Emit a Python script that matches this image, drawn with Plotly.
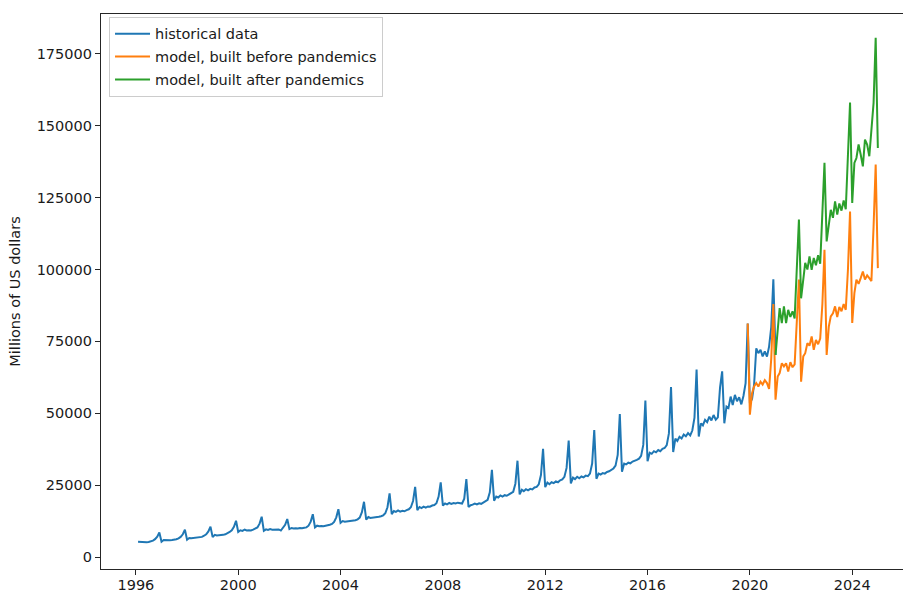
import pandas as pd
import plotly.graph_objects as go

# Monthly sales, millions of US dollars (one row per calendar year)
historical = [
    5300, 5200, 5050, 5000, 5100, 5200, 5400, 5700, 6200, 7100, 8500,                 # 1996 (Feb-Dec)
    5300, 5900, 5800, 5900, 5800, 5900, 6000, 6200, 6500, 7000, 7900, 9500,           # 1997
    6000, 6600, 6500, 6600, 6600, 6700, 6800, 7000, 7400, 7900, 8900, 10550,          # 1998
    6900, 7700, 7500, 7500, 7600, 7700, 7900, 8200, 8700, 9300, 10500, 12600,         # 1999
    8700, 9300, 9100, 9500, 9200, 9300, 9200, 9500, 9800, 10300, 11600, 14000,        # 2000
    9100, 9600, 9400, 9700, 9500, 9600, 9500, 9600, 9200, 10000, 11200, 13200,        # 2001
    9700, 10100, 9900, 10000, 9900, 10100, 10000, 10200, 10300, 10900, 12300, 14900,  # 2002
    10300, 10900, 10700, 10800, 10700, 10900, 11000, 11200, 11500, 12200, 13800, 16650,  # 2003
    11900, 12500, 12300, 12400, 12300, 12500, 12600, 12800, 13100, 13700, 15600, 19200,  # 2004
    13000, 13900, 13600, 13700, 13600, 13900, 14000, 14200, 14500, 15200, 17300, 22100,  # 2005
    14900, 16000, 15700, 16200, 15800, 16100, 15900, 16300, 16600, 17300, 19500, 24400,  # 2006
    16300, 17400, 17000, 17500, 17200, 17600, 17500, 17900, 18100, 18700, 21000, 25950,  # 2007
    17900, 18600, 18300, 18800, 18500, 18800, 18600, 18900, 18700, 18600, 20300, 27100,  # 2008
    17400, 18000, 18200, 18600, 18300, 18700, 18500, 19000, 19300, 19900, 22500, 30300,  # 2009
    19600, 21000, 20700, 21400, 21000, 21500, 21300, 21800, 22000, 22700, 25500, 33500,  # 2010
    21800, 23400, 22900, 23600, 23200, 23700, 23500, 24200, 24400, 25300, 28500, 37600,  # 2011
    24300, 25900, 25300, 26000, 25700, 26300, 26000, 26700, 27000, 27900, 31000, 40500,  # 2012
    25600, 27600, 27100, 27900, 27400, 28000, 27700, 28300, 28100, 29000, 32500, 44200,  # 2013
    27200, 29000, 28700, 29200, 29000, 29600, 29800, 30300, 30800, 31800, 35500, 49700,  # 2014
    29700, 32500, 32200, 32800, 32600, 33200, 33400, 33800, 34200, 35200, 39000, 54400,  # 2015
    33300, 36300, 35900, 36800, 36400, 37200, 36800, 37600, 37900, 38900, 43000, 59100,  # 2016
    36500, 41200, 40400, 41800, 41200, 42600, 42000, 43100, 42300, 44000, 48500, 65200,  # 2017
    41900, 46500, 45800, 47700, 46900, 48800, 47500, 49400, 47800, 48600, 59000, 64600,  # 2018
    46500, 52300, 51800, 55800, 52900, 56400, 54200, 55600, 53100, 56000, 60500, 81200,  # 2019
    53500, 55000, 60000, 72600, 70900, 72100, 69800, 71500, 69700, 73200, 80000, 96600,  # 2020
    70300,                                                                               # 2021 (Jan)
]
historical_start = "1996-02-01"

# Forecast from the model fitted on data up to Dec 2019
model_before = [
    81200,                                                                               # 2019 (Dec)
    49500, 57000, 59300, 60500, 59300, 61000, 60000, 61500, 60500, 58500, 69000, 88000,  # 2020
    54700, 62800, 64000, 67400, 66300, 67400, 64500, 67800, 66000, 67000, 80000, 96500,  # 2021
    61000, 69800, 70900, 74400, 73500, 76700, 72100, 75500, 74000, 76000, 88000, 106900, # 2022
    70300, 80200, 83700, 84800, 87200, 83500, 87000, 85500, 88000, 86000, 100000, 120200,  # 2023
    81400, 91800, 96500, 95000, 97000, 99300, 96500, 98000, 97000, 96000, 115000, 136500,  # 2024
    100500,                                                                              # 2025 (Jan)
]
model_before_start = "2019-12-01"

# Forecast from the model fitted on data up to Jan 2021
model_after = [
    70300, 80200, 86600, 81400, 87200, 81400, 86000, 83500, 85500, 83000, 98000, 117400,       # 2021
    90000, 97600, 102300, 100000, 104600, 99900, 104000, 101500, 105000, 102000, 118000, 137100,  # 2022
    109800, 116800, 120800, 118000, 123700, 119100, 123000, 120500, 124000, 121000, 138000, 158100,  # 2023
    123200, 137100, 138800, 143500, 140000, 135900, 145200, 143500, 139400, 148000, 158000, 180600,  # 2024
    142300,                                                                                    # 2025 (Jan)
]
model_after_start = "2021-01-01"

y_ticks = [0, 25000, 50000, 75000, 100000, 125000, 150000, 175000]


def months(start, n):
    return pd.date_range(start, periods=n, freq="MS")


fig = go.Figure()
series = [
    ("historical data", historical, historical_start, "#1f77b4"),
    ("model, built before pandemics", model_before, model_before_start, "#ff7f0e"),
    ("model, built after pandemics", model_after, model_after_start, "#2ca02c"),
]
for i, (name, values, start, color) in enumerate(series):
    fig.add_trace(go.Scatter(
        x=months(start, len(values)), y=values, mode="lines", name=name,
        legendgroup=f"g{i}",
        line=dict(color=color, width=2),
    ))

axis_color = "#262626"
font = dict(family="DejaVu Sans", size=14.5, color="#1a1a1a")

fig.update_layout(
    width=903, height=592,
    margin=dict(l=101, r=0, t=14, b=23),
    paper_bgcolor="white", plot_bgcolor="white",
    font=font,
    showlegend=True,
    legend=dict(
        x=0.010, y=0.995, xanchor="left", yanchor="top",
        bgcolor="rgba(255,255,255,0.9)", bordercolor="#cccccc", borderwidth=1,
        font=font, tracegroupgap=1, traceorder="grouped", itemwidth=35,
    ),
    xaxis=dict(
        type="date", automargin=False,
        range=["1994-08-21", "2025-12-26"],
        tick0="1996-01-01", dtick="M48", tickformat="%Y",
        showgrid=False, zeroline=False,
        showline=True, linecolor=axis_color, linewidth=1.2, mirror=True,
        ticks="outside", ticklen=5, tickwidth=1.2, tickcolor=axis_color,
        tickfont=font, ticklabelstandoff=-3,
    ),
    yaxis=dict(
        automargin=False,
        range=[-4175, 188900],
        tickmode="array", tickvals=y_ticks, ticktext=[str(v) for v in y_ticks],
        showgrid=False, zeroline=False,
        showline=True, linecolor=axis_color, linewidth=1.2,
        ticks="outside", ticklen=5, tickwidth=1.2, tickcolor=axis_color,
        tickfont=font,
        title=dict(text="Millions of US dollars", font=font, standoff=12),
    ),
)

fig.write_html("out.html")
